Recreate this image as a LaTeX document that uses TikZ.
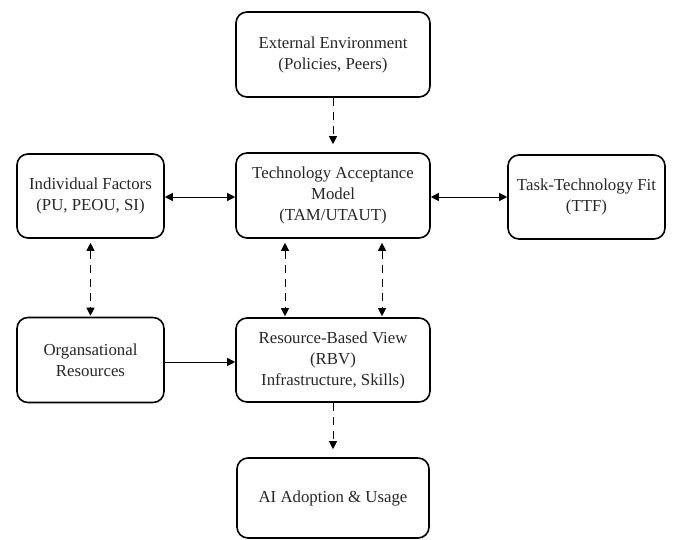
\documentclass[tikz,border=0pt]{standalone}
\usepackage{fontspec}
\setmainfont{Liberation Serif}
\usetikzlibrary{arrows.meta}
\begin{document}
\begin{tikzpicture}[x=1pt,y=-1pt,
  box/.style={draw=black,line width=1.6pt,rounded corners=11pt,align=center,
    inner sep=2pt,font=\fontsize{16.8}{21}\selectfont,text=black!85},
  conn/.style={line width=1pt,-{Triangle[length=8pt,width=8pt]}},
  biconn/.style={line width=1pt,{Triangle[length=8pt,width=8pt]}-{Triangle[length=8pt,width=8pt]}},
  dsh/.style={dash pattern=on 8pt off 6pt}]
\useasboundingbox (0,0) rectangle (674,540);
\node[box,minimum width=194pt,minimum height=85pt] (ext) at (333,54.5) {External Environment\\(Policies, Peers)};
\node[box,minimum width=194pt,minimum height=85pt] (tam) at (333,195.5) {Technology Acceptance\\Model\\(TAM/UTAUT)};
\node[box,minimum width=194pt,minimum height=84pt] (rbv) at (333,360) {Resource-Based View\\(RBV)\\Infrastructure, Skills)};
\node[box,minimum width=192pt,minimum height=80pt] (ai) at (333,498) {AI Adoption \& Usage};
\node[box,minimum width=147pt,minimum height=84pt] (ind) at (90.5,196) {Individual Factors\\(PU, PEOU, SI)};
\node[box,minimum width=147pt,minimum height=85pt] (org) at (90.5,360) {Organsational\\Resources};
\node[box,minimum width=157pt,minimum height=84pt] (ttf) at (586.5,197) {Task-Technology Fit\\(TTF)};
\draw[conn,dsh,shorten >=8pt] (ext.south) -- (tam.north);
\draw[biconn] (ind.east |- 0,197) -- (tam.west |- 0,197);
\draw[biconn] (tam.east |- 0,197) -- (ttf.west |- 0,197);
\draw[biconn,dsh,shorten <=4pt,shorten >=1pt] (tam.south -| 285,0) -- (rbv.north -| 285,0);
\draw[biconn,dsh,shorten <=4pt,shorten >=1pt] (tam.south -| 382,0) -- (rbv.north -| 382,0);
\draw[biconn,dsh,shorten <=4pt,shorten >=1pt] (ind.south) -- (org.north);
\draw[conn] (org.east |- 0,362) -- (rbv.west |- 0,362);
\draw[conn,dsh,shorten >=8pt] (rbv.south) -- (ai.north);
\end{tikzpicture}
\end{document}
